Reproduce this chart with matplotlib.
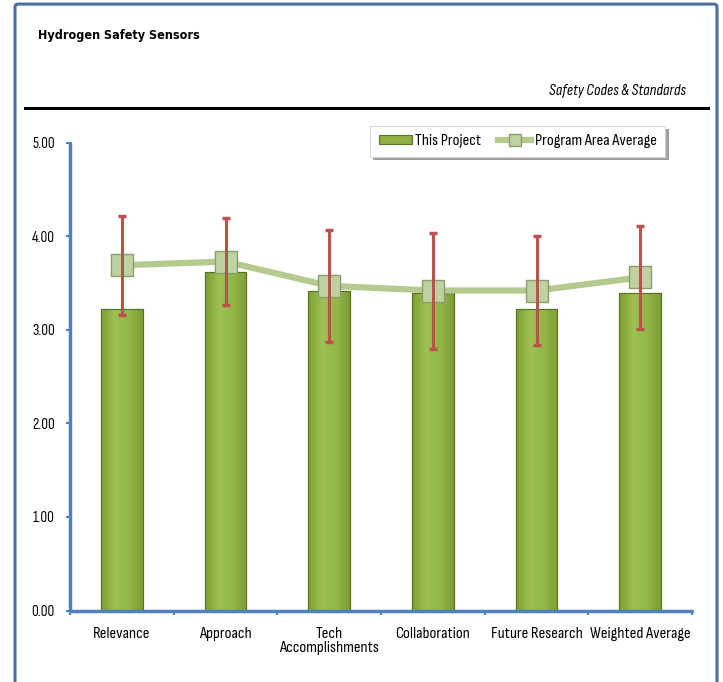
#!/usr/bin/env python3

import numpy as np
import matplotlib
matplotlib.use('Agg')
import matplotlib.pyplot as plt
from matplotlib.patches import FancyBboxPatch, Rectangle
from matplotlib.lines import Line2D
from matplotlib.colors import LinearSegmentedColormap

plt.rcParams['font.family'] = ['Sofia Sans Condensed', 'DejaVu Sans']

categories = ['Relevance', 'Approach', 'Tech\nAccomplishments', 'Collaboration',
              'Future Research', 'Weighted Average']
project_scores = [3.22, 3.62, 3.41, 3.39, 3.22, 3.39]
program_avg = [3.69, 3.73, 3.47, 3.42, 3.42, 3.56]
program_err = [0.53, 0.47, 0.60, 0.62, 0.58, 0.55]
y_ticks = [0, 1, 2, 3, 4, 5]

bar_green = '#8fb142'
bar_edge = '#55731f'
line_green = '#b4ca8e'
err_red = '#c0504d'
axis_blue = '#4f81bd'

fig = plt.figure(figsize=(7.23, 6.82), dpi=100, facecolor='white')

# outer frame
frame = FancyBboxPatch((15 / 723, -0.05), 702 / 723, 1.044, boxstyle='round,pad=0,rounding_size=0.004',
                       transform=fig.transFigure, facecolor='none', edgecolor='#4a6fa5', linewidth=2.2)
fig.patches.append(frame)

fig.text(38 / 723, 1 - 35 / 682, 'Hydrogen Safety Sensors', fontsize=9, fontweight='bold',
         family='DejaVu Sans', fontstretch='condensed', va='center', ha='left')
fig.text(686 / 723, 1 - 91 / 682, 'Safety Codes & Standards', fontsize=11.5, style='italic',
         va='center', ha='right')
fig.add_artist(Line2D([25 / 723, 708 / 723], [1 - 108 / 682, 1 - 108 / 682],
                      transform=fig.transFigure, color='black', linewidth=2.2))

ax = fig.add_axes([70 / 723, 1 - 610.5 / 682, 622 / 723, (610.5 - 142.7) / 682])
x = np.arange(len(categories))

bars = ax.bar(x, project_scores, width=0.4, color=bar_green, edgecolor=bar_edge,
              linewidth=0.8, zorder=2)
# horizontal gradient on the bars
cmap = LinearSegmentedColormap.from_list('g', ['#7d9e34', '#9cc052', '#93b84a', '#7d9e34'])
grad = np.linspace(0, 1, 64).reshape(1, -1)
for b in bars:
    im = ax.imshow(grad, extent=[b.get_x(), b.get_x() + b.get_width(), 0, b.get_height()],
                   aspect='auto', cmap=cmap, zorder=2.1)
    im.set_clip_path(b)
    ax.add_patch(Rectangle((b.get_x(), 0), b.get_width(), b.get_height(), facecolor='none',
                           edgecolor=bar_edge, linewidth=0.8, zorder=2.2))

ax.plot(x, program_avg, color=line_green, linewidth=4.5, zorder=3, solid_capstyle='round')
ax.plot(x, program_avg, linestyle='none', marker='s', markersize=16,
        markerfacecolor='#bfd3a0', markeredgecolor='#8a9d6c', markeredgewidth=1, zorder=4)
ax.errorbar(x, program_avg, yerr=program_err, fmt='none', ecolor=err_red, elinewidth=2.2,
            capsize=3, capthick=2.5, zorder=5)

ax.set_xlim(-0.5, len(categories) - 0.5)
ax.set_ylim(0, 5)
ax.set_yticks(y_ticks)
ax.set_yticklabels([f'{v:.2f}' for v in y_ticks], fontsize=11)
ax.set_xticks(x)
ax.set_xticklabels(categories, fontsize=12, linespacing=1.0)
ax.set_xticks(np.arange(len(categories) + 1) - 0.5, minor=True)
ax.tick_params(axis='x', which='major', length=0, pad=12)
ax.tick_params(axis='x', which='minor', length=3, width=1.5, color=axis_blue)
ax.tick_params(axis='y', length=3, width=1.5, color=axis_blue, pad=8)

for s in ['top', 'right']:
    ax.spines[s].set_visible(False)
for s in ['left', 'bottom']:
    ax.spines[s].set_color(axis_blue)
    ax.spines[s].set_linewidth(2.5)
    ax.spines[s].set_capstyle('round')

handles = [Rectangle((0, 0), 1, 1, facecolor=bar_green, edgecolor=bar_edge, linewidth=0.8),
           Line2D([], [], color=line_green, linewidth=4.5, marker='s', markersize=9,
                  markerfacecolor='#bfd3a0', markeredgecolor='#8a9d6c')]
leg = fig.legend(handles, ['This Project', 'Program Area Average'], ncol=2,
                 loc='upper right', bbox_to_anchor=(665 / 723, 1 - 126 / 682),
                 fontsize=12, frameon=True, fancybox=False, shadow=True,
                 handlelength=2.0, handleheight=0.45, handletextpad=0.2, columnspacing=1.0,
                 borderpad=0.5, borderaxespad=0)
leg.get_frame().set_edgecolor('#d0d0d0')
leg.get_frame().set_linewidth(0.6)

fig.savefig('out.png', dpi=100, facecolor=fig.get_facecolor())
